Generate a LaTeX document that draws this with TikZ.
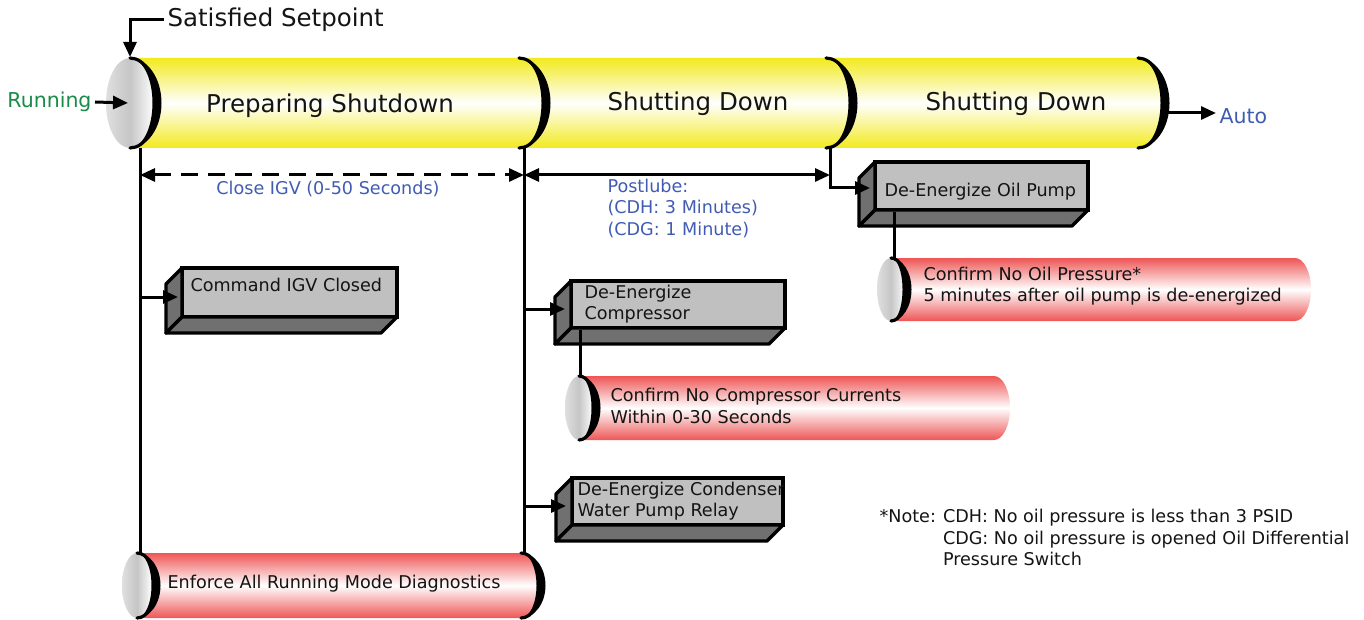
\documentclass[tikz,border=0pt]{standalone}
\usepackage{fontspec}
\setmainfont{DejaVu Sans}
\usetikzlibrary{arrows.meta}
\definecolor{cyl}{RGB}{242,234,30}
\definecolor{redc}{RGB}{238,86,86}
\definecolor{boxfront}{RGB}{192,192,192}
\definecolor{boxside}{RGB}{112,112,112}
\definecolor{bluet}{RGB}{64,92,178}
\definecolor{greent}{RGB}{24,140,72}
\definecolor{txt}{RGB}{20,20,20}
% half ellipse path: top (#1,#2) -> right bulge -> bottom (#1,#3), x radius #4
\newcommand\halfR[4]{(#1,#2) .. controls ({#1+0.5523*(#4)},#2) and ({#1+(#4)},{(#2+#3)/2-0.5523*(#3-#2)/2}) .. ({#1+(#4)},{(#2+#3)/2}) .. controls ({#1+(#4)},{(#2+#3)/2+0.5523*(#3-#2)/2}) and ({#1+0.5523*(#4)},#3) .. (#1,#3)}
\newcommand\halfRrev[4]{(#1,#3) .. controls ({#1+0.5523*(#4)},#3) and ({#1+(#4)},{(#2+#3)/2+0.5523*(#3-#2)/2}) .. ({#1+(#4)},{(#2+#3)/2}) .. controls ({#1+(#4)},{(#2+#3)/2-0.5523*(#3-#2)/2}) and ({#1+0.5523*(#4)},#2) .. (#1,#2)}
\newcommand\crescent[4]{\fill[black] \halfR{#1}{#2}{#3}{#4+4.5} -- \halfRrev{#1}{#2}{#3}{#4-4.5} -- cycle;
  \draw[black,line width=3.2pt,line cap=round] \halfR{#1}{#2}{#3}{#4};}
\tikzset{
  big/.style={font=\fontsize{24.5}{28}\selectfont,text=txt},
  mid/.style={font=\fontsize{20.5}{24}\selectfont},
  small/.style={font=\fontsize{17.6}{21.5}\selectfont,text=txt},
  conn/.style={line width=3pt},
  arr/.style={conn,-{Triangle[length=15pt,width=13pt]}},
  darr/.style={conn,{Triangle[length=15pt,width=13pt]}-{Triangle[length=15pt,width=13pt]}},
  ycyl/.style={top color=cyl,bottom color=cyl,middle color=white},
  rcyl/.style={top color=redc,bottom color=redc,middle color=white},
  capshade/.style={left color=gray!25,right color=white,middle color=gray!45},
  gfront/.style={draw=black,line width=3.4pt,fill=boxfront,outer sep=0pt,inner sep=0pt,anchor=north west},
  gside/.style={draw=black,line width=3.4pt,fill=boxside,line join=round},
}
\begin{document}
\begin{tikzpicture}[x=1pt,y=-1pt]
\useasboundingbox (0,0) rectangle (1364,620);

% ---------- main yellow cylinder ----------
\shade[ycyl] (130,58) -- \halfR{1138}{58}{148}{28} -- (130,148) -- cycle;
\shade[capshade] (130,103) ellipse[x radius=24, y radius=45];
\crescent{130}{58}{148}{27}
\crescent{519}{58}{148}{27}
\crescent{826}{58}{148}{27}
\crescent{1138}{58}{148}{27}

\node[big] (prep) at (330,106) {Preparing Shutdown};
\node[big] (shut1) at (698,104) {Shutting Down};
\node[big] (shut2) at (1016,104) {Shutting Down};

\coordinate (capTop) at (130,57);
\coordinate (capMid) at (128,103);
\coordinate (endR) at (1166,113);
\node[big,anchor=west] (ss) at (164,20) {Satisfied Setpoint};
\node[mid,text=greent,anchor=east] (run) at (95,102) {Running};
\node[mid,text=bluet,anchor=west] (auto) at (1216,116) {Auto};
\draw[arr] (ss.west) -| (capTop);
\draw[arr] (run.east) -- (capMid);
\draw[arr] (endR) -- (endR -| auto.west);

% ---------- red cylinders ----------
% bottom bar
\shade[rcyl] (137,553) -- \halfR{521}{553}{618}{20} -- (137,618) -- cycle;
\shade[capshade] (137,585.5) ellipse[x radius=15, y radius=32.5];
\crescent{137}{553}{618}{19}
\crescent{521}{553}{618}{20}
\node[small,anchor=west] (enf) at (164,584) {Enforce All Running Mode Diagnostics};

% oil pressure
\shade[rcyl] (891,258) -- \halfR{1295}{258}{321}{16} -- (891,321) -- cycle;
\shade[capshade] (891,289.5) ellipse[x radius=14, y radius=31.5];
\crescent{891}{258}{321}{16}
\node[small,anchor=west,align=left] (oilp) at (920,286) {Confirm No Oil Pressure*\\5 minutes after oil pump is de-energized};

% compressor currents
\shade[rcyl] (579,376) -- \halfR{994}{376}{440}{16} -- (579,440) -- cycle;
\shade[capshade] (579,408) ellipse[x radius=14, y radius=32];
\crescent{579}{376}{440}{17}
\node[small,anchor=west,align=left] (cur) at (607,406) {Confirm No Compressor Currents\\Within 0-30 Seconds};

% ---------- gray boxes ----------
\node[gfront,minimum width=213pt,minimum height=48pt] (oil) at (875,162) {};
\node[gfront,minimum width=215pt,minimum height=49pt] (cmd) at (182,268) {};
\node[gfront,minimum width=214pt,minimum height=47pt] (comp) at (571,281) {};
\node[gfront,minimum width=211pt,minimum height=47pt] (cond) at (572,478) {};
\foreach \b in {oil,cmd,comp,cond}{
  \draw[gside] (\b.north west) -- ++(-16,16) -- ([shift={(-16,16)}]\b.south west) -- (\b.south west) -- cycle;
  \draw[gside] (\b.south west) -- ++(-16,16) -- ([shift={(-16,16)}]\b.south east) -- (\b.south east) -- cycle;
}
\node[small,anchor=west] (oilt) at (881,192) {De-Energize Oil Pump};
\node[small,anchor=west] (cmdt) at (187,285) {Command IGV Closed};
\node[small,anchor=west,align=left] (compt) at (581,304) {De-Energize\\Compressor};
\node[small,anchor=west,align=left] (condt) at (574,501) {De-Energize Condenser\\Water Pump Relay};

% ---------- connectors ----------
\coordinate (v1t) at (140,148);
\coordinate (v1b) at (140,554);
\coordinate (v2t) at (524,148);
\coordinate (v2b) at (524,554);
\coordinate (v3t) at (830,148);
\draw[conn] (v1t) -- (v1b);
\draw[conn] (v2t) -- (v2b);

\coordinate (a1) at (140,175);
\coordinate (a2) at (524,175);
\coordinate (a3) at (830,175);
\draw[darr,dash pattern=on 17pt off 10pt] (a1) -- (a2);
\draw[darr] (a2) -- (a3);
\node[small,text=bluet] (igv) at (328,189) {Close IGV (0-50 Seconds)};
\node[small,text=bluet,anchor=west,align=left] (post) at (604,208) {Postlube:\\(CDH: 3 Minutes)\\(CDG: 1 Minute)};

\coordinate (c0) at (830,188);
\draw[arr,shorten >=5pt] (v3t) |- (c0 -| oil.west);
\coordinate (c1) at (140,297);
\draw[arr,shorten >=4pt] (c1) -- (c1 -| cmd.west);
\coordinate (c2) at (524,309);
\draw[arr,shorten >=6pt] (c2) -- (c2 -| comp.west);
\coordinate (c3) at (524,506);
\draw[arr,shorten >=6pt] (c3) -- (c3 -| cond.west);

\coordinate (o1) at (894,212);
\coordinate (o2) at (894,258);
\draw[conn] (o1) -- (o2);
\coordinate (p1) at (580,330);
\coordinate (p2) at (580,376);
\draw[conn] (p1) -- (p2);

% ---------- note ----------
\node[small,anchor=west] (notel) at (876,516) {*Note:};
\node[small,anchor=north west,align=left] (noteb) at (notel.north east) {CDH: No oil pressure is less than 3 PSID\\CDG: No oil pressure is opened Oil Differential\\Pressure Switch};
\end{tikzpicture}
\end{document}
